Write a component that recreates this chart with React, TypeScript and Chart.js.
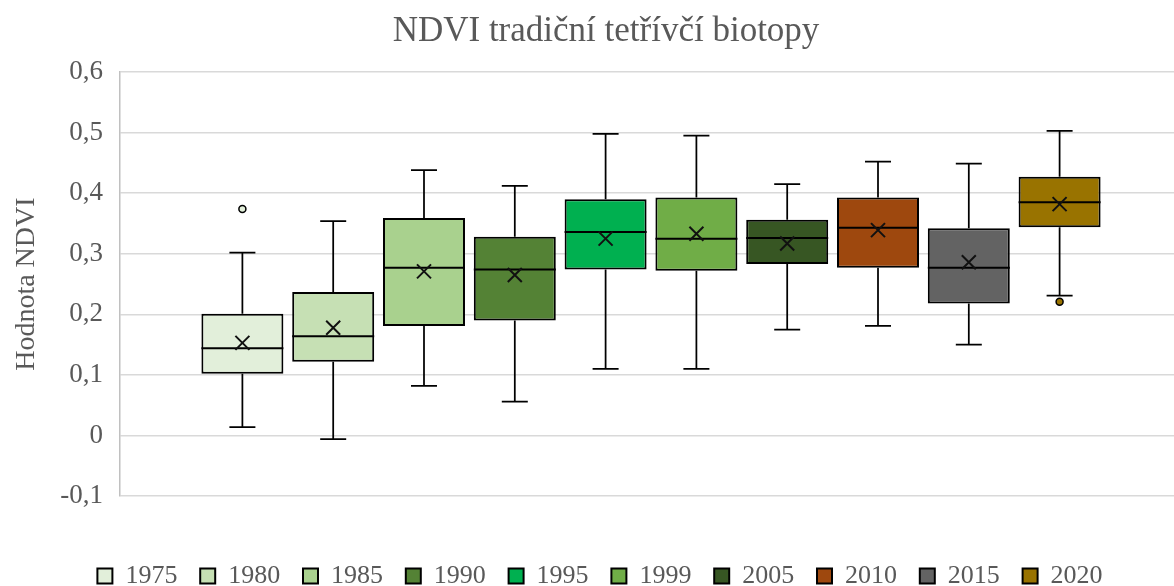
import React, { useEffect, useRef } from 'react';
import { Chart, registerables } from 'chart.js';

Chart.register(...registerables);

const chartTitle = 'NDVI tradiční tetřívčí biotopy';
const yAxisTitle = 'Hodnota NDVI';

const years = ['1975', '1980', '1985', '1990', '1995', '1999', '2005', '2010', '2015', '2020'];
const minValues = [0.014, -0.006, 0.082, 0.056, 0.110, 0.110, 0.175, 0.181, 0.150, 0.231];
const q1Values = [0.102, 0.122, 0.181, 0.190, 0.274, 0.272, 0.283, 0.277, 0.218, 0.344];
const medianValues = [0.144, 0.164, 0.277, 0.274, 0.336, 0.325, 0.326, 0.343, 0.277, 0.385];
const q3Values = [0.201, 0.237, 0.359, 0.328, 0.390, 0.393, 0.356, 0.393, 0.342, 0.427];
const maxValues = [0.302, 0.354, 0.438, 0.412, 0.498, 0.495, 0.415, 0.452, 0.449, 0.503];
const meanValues = [0.153, 0.178, 0.271, 0.265, 0.325, 0.333, 0.317, 0.339, 0.286, 0.382];
const outlierValues: number[][] = [[0.374], [], [], [], [], [], [], [], [], [0.221]];

const colors = ['#E2EFDA', '#C6E0B4', '#A9D18E', '#548235', '#00B050', '#70AD47', '#375623', '#9E480E', '#636363', '#997300'];

const FONT = 'Liberation Serif';
const TEXT = '#595959';

export default function App() {
  const ref = useRef<HTMLCanvasElement>(null);

  useEffect(() => {
    document.body.style.margin = '0';
    if (!ref.current) return;

    const boxExtras = {
      id: 'boxExtras',
      afterDatasetsDraw(chart: any) {
        const ctx = chart.ctx;
        const ys = chart.scales.y;
        years.forEach((_, i) => {
          const bar = chart.getDatasetMeta(i).data[0];
          if (!bar) return;
          const x = bar.x;
          const w = bar.width;
          const pMin = ys.getPixelForValue(minValues[i]);
          const pMax = ys.getPixelForValue(maxValues[i]);
          const pQ1 = ys.getPixelForValue(q1Values[i]);
          const pQ3 = ys.getPixelForValue(q3Values[i]);
          const pMed = ys.getPixelForValue(medianValues[i]);
          const pMean = ys.getPixelForValue(meanValues[i]);
          ctx.save();
          ctx.strokeStyle = '#000';
          ctx.lineWidth = 1.75;
          ctx.beginPath();
          ctx.moveTo(x, pQ3); ctx.lineTo(x, pMax);
          ctx.moveTo(x, pQ1); ctx.lineTo(x, pMin);
          ctx.moveTo(x - 13, pMax); ctx.lineTo(x + 13, pMax);
          ctx.moveTo(x - 13, pMin); ctx.lineTo(x + 13, pMin);
          ctx.stroke();
          ctx.lineWidth = 2;
          ctx.beginPath();
          ctx.moveTo(x - w / 2, pMed); ctx.lineTo(x + w / 2, pMed);
          ctx.stroke();
          ctx.lineWidth = 2;
          ctx.strokeStyle = '#111';
          const m = 7;
          ctx.beginPath();
          ctx.moveTo(x - m, pMean - m); ctx.lineTo(x + m, pMean + m);
          ctx.moveTo(x - m, pMean + m); ctx.lineTo(x + m, pMean - m);
          ctx.stroke();
          outlierValues[i].forEach((v) => {
            const py = ys.getPixelForValue(v);
            ctx.beginPath();
            ctx.arc(x, py, 3.5, 0, Math.PI * 2);
            ctx.fillStyle = colors[i];
            ctx.fill();
            ctx.lineWidth = 1.5;
            ctx.strokeStyle = '#000';
            ctx.stroke();
          });
          ctx.restore();
        });
      },
    };

    const layoutTweak = {
      id: 'layoutTweak',
      afterLayout(chart: any) {
        const l = chart.legend;
        if (l) {
          l.top += 13;
          l.bottom += 13;
          l.left += 13;
          l.right += 13;
        }
        const t = chart.titleBlock;
        if (t) {
          t.left += 19;
          t.right += 19;
        }
        const xs = chart.scales.x;
        if (xs) {
          xs.right += 8;
          xs.width = xs.right - xs.left;
          xs.configure();
        }
      },
    };

    const chart = new Chart(ref.current, {
      type: 'bar',
      data: {
        labels: [''],
        datasets: years.map((yr, i) => ({
          label: yr,
          data: [[q1Values[i], q3Values[i]]] as any,
          backgroundColor: colors[i],
          borderColor: '#000',
          borderWidth: 2,
          borderSkipped: false,
          categoryPercentage: 0.855,
          barPercentage: 0.903,
        })),
      },
      options: {
        responsive: true,
        maintainAspectRatio: false,
        animation: false,
        layout: { padding: 0 },
        plugins: {
          title: {
            display: true,
            text: chartTitle,
            color: TEXT,
            font: { family: FONT, size: 35, weight: 'normal' },
            padding: { top: 10.5, bottom: 19.5 },
          },
          legend: {
            position: 'bottom',
            labels: {
              boxWidth: 15,
              boxHeight: 15,
              padding: 22.8,
              color: TEXT,
              font: { family: FONT, size: 26 },
            },
          },
          tooltip: { enabled: false },
        },
        scales: {
          x: {
            display: true,
            grid: { display: false },
            border: { display: false },
            ticks: { display: false },
            afterFit: (s: any) => { s.height = 31; },
          },
          y: {
            min: -0.1,
            max: 0.6,
            ticks: {
              stepSize: 0.1,
              padding: 17,
              color: TEXT,
              font: { family: FONT, size: 27 },
              callback: (v: any) => {
                const r = Math.round(Number(v) * 10) / 10;
                return r === 0 ? '0' : r.toFixed(1).replace('.', ',');
              },
            },
            grid: { color: '#d9d9d9', lineWidth: 1.5, drawTicks: false },
            border: { display: true, color: '#c0c0c0', width: 1.5 },
            title: {
              display: true,
              text: yAxisTitle,
              color: TEXT,
              font: { family: FONT, size: 28 },
              padding: { top: 10, bottom: 0 },
            },
            afterFit: (s: any) => { s.width = 120; },
          },
        },
      } as any,
      plugins: [boxExtras, layoutTweak],
    });

    return () => chart.destroy();
  }, []);

  return (
    <div style={{ position: 'relative', width: '1174px', height: '586px' }}>
      <canvas ref={ref} />
    </div>
  );
}
